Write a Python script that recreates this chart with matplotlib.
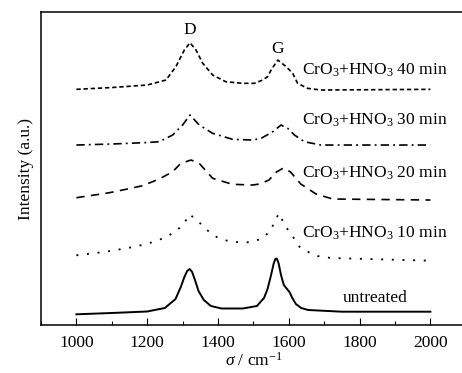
import matplotlib
matplotlib.use("Agg")
import matplotlib.pyplot as plt
from matplotlib.ticker import MultipleLocator

plt.rcParams['font.family'] = ['Liberation Serif', 'DejaVu Serif']
plt.rcParams['mathtext.fontset'] = 'custom'
plt.rcParams['mathtext.rm'] = 'Liberation Serif'
plt.rcParams['mathtext.it'] = 'Liberation Serif:italic'

# -----------------------------
# Raman spectra (arbitrary intensity units)
# -----------------------------
x_untreated = [1000, 1100, 1200, 1250, 1280, 1295, 1305, 1313, 1320, 1327, 1335, 1345, 1360,
               1380, 1410, 1470, 1510, 1530, 1540, 1550, 1557, 1562, 1566, 1571, 1578,
               1586, 1595, 1602, 1610, 1620, 1635, 1655, 1750, 2000]
y_untreated = [10.7, 12, 13.5, 17, 26, 38, 48, 54, 56, 53, 45, 34, 25,
               19, 16.5, 16.5, 19, 27, 36, 50, 61, 66, 66.5, 62, 50,
               40, 36, 33, 27, 21, 17, 15, 13.3, 13.3]

x_10 = [1000, 1084, 1166, 1220, 1249, 1277, 1303, 1319, 1341, 1363, 1390, 1416, 1444,
        1472, 1498, 1526, 1550, 1561, 1573, 1588, 1613, 1630, 1653, 1681, 1720, 2000]
y_10 = [69.7, 73.3, 78.3, 83.3, 87.3, 92.7, 100.7, 110.7, 105, 96.7, 89, 85, 83.3,
        82.3, 83.3, 86.7, 95, 105, 111.7, 100, 87.7, 78.3, 73.3, 69, 67, 64.3]

x_20 = [1000, 1051, 1093, 1140, 1187, 1234, 1272, 1295, 1324, 1347, 1385, 1441, 1498,
        1517, 1544, 1565, 1585, 1605, 1634, 1677, 1724, 2000]
y_20 = [127.3, 130, 132.3, 135.7, 139.3, 146, 153.3, 161.7, 165, 161.7, 146.7, 140.7, 140,
        141, 145, 153, 157, 153, 141, 131, 126, 125]

x_30 = [1000, 1100, 1200, 1234, 1272, 1300, 1321, 1347, 1385, 1441, 1498, 1522, 1555,
        1578, 1597, 1616, 1644, 1691, 2000]
y_30 = [180, 181, 182.5, 183.3, 190, 200, 210, 200, 191.7, 185.7, 185, 186.7, 193.3,
        200, 196.7, 190, 183.3, 180, 180]

x_40 = [1000, 1100, 1200, 1253, 1281, 1305, 1321, 1338, 1357, 1385, 1422, 1470, 1503,
        1526, 1540, 1550, 1569, 1593, 1611, 1625, 1653, 1691, 2000]
y_40 = [235.7, 237.5, 240, 245, 258.3, 275, 282.3, 275, 261.7, 250, 243.3, 241.7, 241.7,
        245, 248.3, 255, 265, 258.3, 251.7, 241.7, 236.7, 235, 235.7]

labels = ["untreated",
          "CrO$_3$+HNO$_3$ 10 min",
          "CrO$_3$+HNO$_3$ 20 min",
          "CrO$_3$+HNO$_3$ 30 min",
          "CrO$_3$+HNO$_3$ 40 min"]
label_y = [27, 92, 152, 205, 255]

# -----------------------------
# Figure
# -----------------------------
fig = plt.figure(figsize=(4.62, 3.73), dpi=100)
ax = fig.add_axes([0.0887, 0.1287, 0.9195, 0.839])

ax.plot(x_untreated, y_untreated, color='black', lw=1.4, ls='-')
ax.plot(x_10, y_10, color='black', lw=1.3, ls=(0, (1.1, 4.8)))
ax.plot(x_20, y_20, color='black', lw=1.2, ls=(0, (5, 3.8)))
ax.plot(x_30, y_30, color='black', lw=1.2, ls=(0, (5, 2.5, 1.1, 2.5)))
ax.plot(x_40, y_40, color='black', lw=1.2, ls=(0, (2.6, 1.7)))

ax.text(1752, label_y[0], labels[0], fontsize=12.5, va='center', ha='left')
for lab, yy in zip(labels[1:], label_y[1:]):
    ax.text(1638, yy, lab, fontsize=12.5, va='center', ha='left')

ax.text(1320, 295, "D", fontsize=12.5, ha='center', va='center')
ax.text(1568, 276, "G", fontsize=12.5, ha='center', va='center')

ax.set_xlim(900, 2100)
ax.set_ylim(0, 313)
ax.xaxis.set_minor_locator(MultipleLocator(100))
ax.set_xticks([1000, 1200, 1400, 1600, 1800, 2000])
ax.set_yticks([])
ax.tick_params(axis='x', which='major', direction='in', length=5, width=0.8,
               labelsize=12.5, pad=7)
ax.tick_params(axis='x', which='minor', direction='in', length=3, width=0.8)
for sp in ax.spines.values():
    sp.set_linewidth(1.1)

ax.set_xlabel(r"$\sigma$ / cm$^{-1}$", fontsize=12.5, labelpad=1)
ax.set_ylabel("Intensity (a.u.)", fontsize=12.5, labelpad=5)

fig.savefig("out.png", dpi=100)
